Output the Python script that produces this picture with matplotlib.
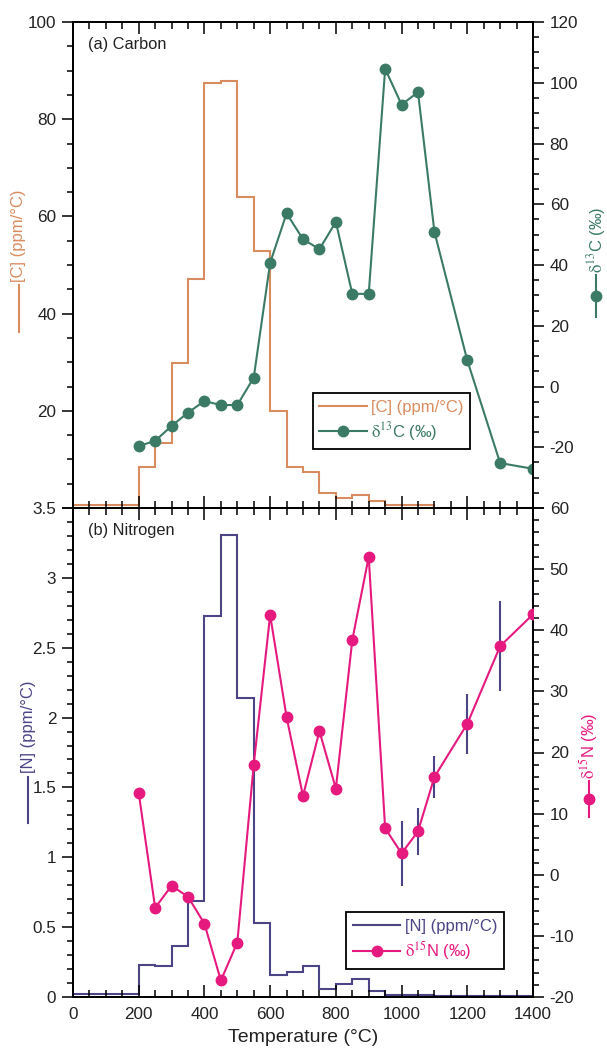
import numpy as np
import matplotlib
matplotlib.use("Agg")
import matplotlib.pyplot as plt
from matplotlib.lines import Line2D
from matplotlib.ticker import MultipleLocator

plt.rcParams['font.family'] = ['Liberation Sans', 'DejaVu Sans']
plt.rcParams['mathtext.fontset'] = 'stix'
plt.rcParams['font.size'] = 12.3

# ---- data ----
c_edges = [0, 200, 250, 300, 350, 400, 450, 500, 550, 600, 650, 700, 750,
           800, 850, 900, 950, 1100, 1400]
c_conc = [0.7, 8.5, 13.4, 29.8, 47.1, 87.5, 87.9, 63.9, 52.9, 20.0, 8.5, 7.4,
          3.0, 2.1, 2.6, 1.5, 0.7, 0.1]
temp_iso = [200, 250, 300, 350, 400, 450, 500, 550, 600, 650, 700, 750, 800,
            850, 900, 950, 1000, 1050, 1100, 1200, 1300, 1400]
d13c = [-19.6, -17.9, -13.0, -8.6, -4.8, -6.1, -6.1, 2.9, 40.7, 57.0, 48.5,
        45.2, 54.2, 30.5, 30.5, 104.6, 92.8, 96.9, 50.9, 8.6, -25.2, -27.1]

n_edges = [0, 200, 250, 300, 350, 400, 450, 500, 550, 600, 650, 700, 750,
           800, 850, 900, 950, 1100, 1400]
n_conc = [0.02, 0.23, 0.22, 0.365, 0.69, 2.73, 3.31, 2.14, 0.53, 0.157, 0.18,
          0.22, 0.06, 0.093, 0.129, 0.04, 0.014, 0.005]
d15n = [13.4, -5.4, -1.8, -3.6, -8.0, -17.3, -11.1, 18.0, 42.5, 25.8, 12.9,
        23.5, 14.1, 38.4, 52.0, 7.6, 3.5, 7.1, 16.0, 24.7, 37.4, 42.6]
d15n_err = [0, 0, 0, 0, 0, 0, 0, 0, 0, 0, 0, 0, 0, 0, 0, 0,
            5.3, 3.8, 3.5, 4.9, 7.4, 5.0]

c_col = '#D98C5F'
g_col = '#3B7B65'
n_col = '#4B4587'
p_col = '#E6197F'
tick_col = '#222222'

lab_c13 = r'$\mathrm{\delta}^{13}$C (‰)'
lab_n15 = r'$\mathrm{\delta}^{15}$N (‰)'

W, H = 607, 1051
fig = plt.figure(figsize=(W / 100, H / 100), dpi=100)
ax1 = fig.add_axes([73 / W, 1 - 508 / H, 460 / W, 486 / H])
ax2 = fig.add_axes([73 / W, 1 - 997 / H, 460 / W, 489 / H])
ax1r = ax1.twinx()
ax2r = ax2.twinx()


def style_x(ax, labels):
    ax.set_xlim(0, 1400)
    ax.xaxis.set_major_locator(MultipleLocator(200))
    ax.xaxis.set_minor_locator(MultipleLocator(50))
    ax.tick_params(axis='x', which='both', direction='in', top=True, bottom=True,
                   labelbottom=labels, width=1.1, labelcolor=tick_col, pad=7)
    ax.tick_params(axis='x', which='major', length=8.5)
    ax.tick_params(axis='x', which='minor', length=5)
    for s in ax.spines.values():
        s.set_linewidth(1.3)


def style_y(ax, lo, hi, major, minor, labels):
    ax.set_ylim(lo, hi)
    ticks = np.arange(lo, hi + major / 2, major)
    ax.set_yticks(ticks, labels=labels)
    ax.yaxis.set_minor_locator(MultipleLocator(minor))
    ax.tick_params(axis='y', which='both', direction='out', width=1.1, pad=4,
                   labelcolor=tick_col)
    ax.tick_params(axis='y', which='major', length=8)
    ax.tick_params(axis='y', which='minor', length=4.5)


# ---- (a) carbon ----
style_x(ax1, False)
ax1.stairs(c_conc, c_edges, baseline=None, color=c_col, lw=1.5)
ax1r.plot(temp_iso, d13c, '-o', color=g_col, lw=1.5, ms=7.5)
style_y(ax1, 0, 100, 20, 5, ['', '20', '40', '60', '80', '100'])
style_y(ax1r, -40, 120, 20, 5,
        ['', '-20', '0', '20', '40', '60', '80', '100', '120'])
for s in ax1r.spines.values():
    s.set_linewidth(1.3)
ax1.text(0.033, 0.945, '(a) Carbon', transform=ax1.transAxes, fontsize=11.8,
         color=tick_col)

h1 = [Line2D([], [], color=c_col, lw=1.5),
      Line2D([], [], color=g_col, lw=1.5, marker='o', ms=7.5)]
leg = ax1r.legend(h1, ['[C] (ppm/°C)', lab_c13],
                  loc='upper left', bbox_to_anchor=(0.503, 0.254),
                  frameon=True, fancybox=False, framealpha=1, edgecolor='black',
                  handlelength=2.85, borderpad=0.4, labelspacing=0.3,
                  handletextpad=0.25, fontsize=12)
leg.get_frame().set_linewidth(1.3)
for t, c in zip(leg.get_texts(), [c_col, g_col]):
    t.set_color(c)

# ---- (b) nitrogen ----
style_x(ax2, True)
ax2.stairs(n_conc, n_edges, baseline=None, color=n_col, lw=1.5)
err = np.array(d15n_err)
ax2r.errorbar(temp_iso, d15n, yerr=np.where(err > 0, err, np.nan), fmt='none',
              ecolor=n_col, elinewidth=1.5, capsize=0, zorder=2)
ax2r.plot(temp_iso, d15n, '-o', color=p_col, lw=1.5, ms=7.5, zorder=3)
style_y(ax2, 0, 3.5, 0.5, 0.1, ['0', '0.5', '1', '1.5', '2', '2.5', '3', '3.5'])
style_y(ax2r, -20, 60, 10, 2,
        ['-20', '-10', '0', '10', '20', '30', '40', '50', '60'])
for s in ax2r.spines.values():
    s.set_linewidth(1.3)
ax2.text(0.033, 0.945, '(b) Nitrogen', transform=ax2.transAxes, fontsize=11.8,
         color=tick_col)
ax2.set_xlabel('Temperature (°C)', fontsize=14, labelpad=5, color=tick_col)

h2 = [Line2D([], [], color=n_col, lw=1.5),
      Line2D([], [], color=p_col, lw=1.5, marker='o', ms=7.5)]
leg2 = ax2r.legend(h2, ['[N] (ppm/°C)', lab_n15],
                   loc='upper left', bbox_to_anchor=(0.576, 0.190),
                   frameon=True, fancybox=False, framealpha=1, edgecolor='black',
                   handlelength=2.85, borderpad=0.4, labelspacing=0.3,
                   handletextpad=0.25, fontsize=12)
leg2.get_frame().set_linewidth(1.3)
for t, c in zip(leg2.get_texts(), [n_col, p_col]):
    t.set_color(c)


# ---- axis titles drawn as little keys: rotated text plus line sample ----
def side_label(x, text_bottom, line_top, line_bot, text, color, marker=None):
    fig.text(x / W, 1 - text_bottom / H, text, rotation=90, color=color,
             ha='center', va='bottom', fontsize=12)
    fig.add_artist(Line2D([x / W, x / W], [1 - line_top / H, 1 - line_bot / H],
                          color=color, lw=1.5, transform=fig.transFigure))
    if marker:
        ym = (line_top + line_bot) / 2
        fig.add_artist(Line2D([x / W], [1 - ym / H], color=color, marker='o',
                              ms=7.5, transform=fig.transFigure))


side_label(19, 282, 285, 332, '[C] (ppm/°C)', c_col)
side_label(596, 273, 275, 317, lab_c13, g_col, marker=True)
side_label(28, 773, 777, 823, '[N] (ppm/°C)', n_col)
side_label(589, 779, 781, 817, lab_n15, p_col, marker=True)

fig.savefig('out.png', dpi=100, facecolor='white')
